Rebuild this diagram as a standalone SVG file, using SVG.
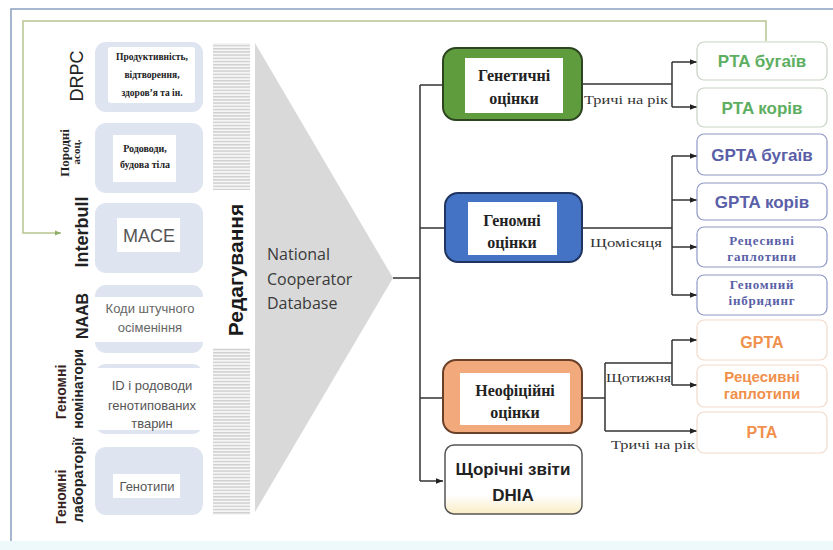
<svg xmlns="http://www.w3.org/2000/svg" width="833" height="550" viewBox="0 0 833 550">
<defs>
<pattern id="stripes" width="10" height="3.2" patternUnits="userSpaceOnUse"><rect width="10" height="3.2" fill="#f6f6f6"/><rect width="10" height="1.4" fill="#cfcfcf"/></pattern>
<marker id="arr" viewBox="0 0 10 10" refX="10" refY="5" markerWidth="7" markerHeight="7" orient="auto" markerUnits="userSpaceOnUse"><path d="M0,1 L10,5 L0,9 z" fill="#222"/></marker>
<marker id="garr" viewBox="0 0 10 10" refX="10" refY="5" markerWidth="6" markerHeight="6" orient="auto" markerUnits="userSpaceOnUse"><path d="M0,1 L10,5 L0,9 z" fill="#8fae6a"/></marker>
<linearGradient id="dhia" x1="0" y1="0" x2="0" y2="1"><stop offset="0.72" stop-color="#ffffff"/><stop offset="1" stop-color="#fbecc4"/></linearGradient>
</defs>
<style>
.lav{fill:#dfe4f1}
.wh{fill:#ffffff}
.ser{font-family:"Liberation Serif","DejaVu Serif",serif;font-weight:bold}
.sans{font-family:"Liberation Sans",Arial,sans-serif}
.open{font-family:"Open Sans","Liberation Sans",sans-serif}
.conn{fill:none;stroke:#333;stroke-width:1.5}
.rb{fill:#fff;stroke-width:1.2}
.gr{stroke:#c9d3c6}
.bl{stroke:#8f98c6}
.or{stroke:#f1d9c9}
.gt{fill:#5eae62;font-weight:bold;font-size:17px}
.bt{fill:#5a5fa8;font-weight:bold}
.ot{fill:#f0904c;font-weight:bold}
.lbl{font-size:13px;font-family:"Liberation Serif","DejaVu Serif",serif;fill:#333}
</style>
<rect width="833" height="550" fill="#fff"/>
<rect x="0" y="541" width="833" height="9" fill="#eef9fb"/>
<path d="M11 541 V9 H833" fill="none" stroke="#8aa0c0" stroke-width="1.5"/>

<g id="left-labels" font-weight="bold" fill="#222">
<text class="sans" font-weight="normal" font-size="18" transform="translate(83,76) rotate(-90)" text-anchor="middle">DRPC</text>
<text class="ser" font-size="13" transform="translate(69,153) rotate(-90)" text-anchor="middle">Породні</text>
<text class="ser" font-size="11" transform="translate(80,152) rotate(-90)" text-anchor="middle">асоц.</text>
<text class="sans" font-size="18" transform="translate(88,232) rotate(-90)" text-anchor="middle">Interbull</text>
<text class="sans" font-size="16" transform="translate(88,316) rotate(-90)" text-anchor="middle">NAAB</text>
<text class="sans" font-size="14" fill="#3a1f1f" transform="translate(66,392) rotate(-90)" text-anchor="middle">Геномні</text>
<text class="sans" font-size="14" transform="translate(83,389) rotate(-90)" text-anchor="middle">номінатори</text>
<text class="sans" font-size="14" fill="#3a1f1f" transform="translate(66,497) rotate(-90)" text-anchor="middle">Геномні</text>
<text class="sans" font-size="14.5" transform="translate(83,480) rotate(-90)" text-anchor="middle">лабораторії</text>
</g>

<g id="src-drpc">
<rect class="lav" x="95" y="42" width="108" height="70" rx="11"/>
<rect class="wh" x="108" y="47" width="87" height="56" rx="3"/>
<text class="ser" font-size="9.5" fill="#222" text-anchor="middle"><tspan x="152" y="60">Продуктивність,</tspan><tspan x="152" y="78">відтворення,</tspan><tspan x="152" y="96">здоров’я та ін.</tspan></text>
</g>
<g id="src-breed">
<rect class="lav" x="95" y="123" width="108" height="70" rx="11"/>
<rect class="wh" x="113" y="135" width="63" height="47"/>
<text class="ser" font-size="10" fill="#222" text-anchor="middle"><tspan x="145" y="152">Родоводи,</tspan><tspan x="145" y="168">будова тіла</tspan></text>
</g>
<g id="src-mace">
<rect class="lav" x="95" y="203" width="108" height="70" rx="11"/>
<rect class="wh" x="117" y="218" width="63" height="34"/>
<text class="sans" font-size="18" fill="#555" text-anchor="middle" x="149" y="242">MACE</text>
</g>
<g id="src-naab">
<rect class="lav" x="95" y="285" width="108" height="68" rx="11"/>
<rect class="wh" x="93" y="297" width="112" height="45"/>
<text class="sans" font-size="13" fill="#666" text-anchor="middle"><tspan x="150" y="313">Коди штучного</tspan><tspan x="150" y="332">осіменіння</tspan></text>
</g>
<g id="src-nominators">
<rect class="lav" x="95" y="364" width="108" height="70" rx="11"/>
<rect class="wh" x="93" y="368" width="112" height="62"/>
<text class="sans" font-size="13" fill="#555" text-anchor="middle"><tspan x="152" y="390">ID і родоводи</tspan><tspan x="152" y="410">генотипованих</tspan><tspan x="152" y="428">тварин</tspan></text>
</g>
<g id="src-genotypes">
<rect class="lav" x="95" y="447" width="108" height="68" rx="11"/>
<rect class="wh" x="113" y="474" width="67" height="24"/>
<text class="sans" font-size="13" fill="#555" text-anchor="middle" x="147" y="491">Генотипи</text>
</g>

<g id="editing">
<rect x="213" y="43" width="37" height="472" fill="url(#stripes)"/>
<rect x="213" y="190" width="37" height="158" fill="#fff"/>
<text class="sans" font-size="21" font-weight="bold" fill="#1a1a1a" text-anchor="middle" transform="translate(243,270) rotate(-90)">Редагування</text>
</g>

<g id="database">
<polygon points="255,43 393,278 255,512" fill="#d9d9d9"/>
<text class="open" font-size="16" fill="#3a3a3a"><tspan x="267" y="260">National</tspan><tspan x="267" y="285">Cooperator</tspan><tspan x="267" y="309">Database</tspan></text>
</g>

<g id="connectors">
<path d="M766 41 V21 H23 V233 H61" fill="none" stroke="#b7c490" stroke-width="1.5" marker-end="url(#garr)"/>
<path class="conn" d="M393 278 H420 M420 85 V481 M420 85 H443 M420 228 H445 M420 398 H443"/>
<path class="conn" d="M420 481 H443" marker-end="url(#arr)"/>
<path class="conn" d="M582 84 H672 M672 62 V107"/>
<path class="conn" d="M672 62 H697" marker-end="url(#arr)"/>
<path class="conn" d="M672 107 H697" marker-end="url(#arr)"/>
<path class="conn" d="M582 228 H672 M672 156 V295"/>
<path class="conn" d="M672 156 H697" marker-end="url(#arr)"/>
<path class="conn" d="M672 200 H697" marker-end="url(#arr)"/>
<path class="conn" d="M672 247 H697" marker-end="url(#arr)"/>
<path class="conn" d="M672 295 H697" marker-end="url(#arr)"/>
<path class="conn" d="M582 398 H605 M605 363 V431 M605 363 H672 M672 340 V385"/>
<path class="conn" d="M672 340 H697" marker-end="url(#arr)"/>
<path class="conn" d="M672 385 H697" marker-end="url(#arr)"/>
<path class="conn" d="M605 431 H697" marker-end="url(#arr)"/>
<text class="lbl" x="584" y="104" textLength="84" lengthAdjust="spacingAndGlyphs">Тричі на рік</text>
<text class="lbl" x="590" y="247" textLength="72" lengthAdjust="spacingAndGlyphs" fill="#5a3a6a">Щомісяця</text>
<text class="lbl" x="606" y="382" textLength="65" lengthAdjust="spacingAndGlyphs">Щотижня</text>
<text class="lbl" x="611" y="449" textLength="84" lengthAdjust="spacingAndGlyphs">Тричі на рік</text>
</g>

<g id="genetic">
<rect x="443" y="48" width="139" height="72" rx="13" fill="#5e9c3d" stroke="#2c4420" stroke-width="2"/>
<rect x="465" y="58" width="98" height="55" fill="#fff"/>
<text class="ser" font-size="16" fill="#222" text-anchor="middle"><tspan x="514" y="81">Генетичні</tspan><tspan x="514" y="104">оцінки</tspan></text>
</g>
<g id="genomic">
<rect x="445" y="193" width="137" height="69" rx="13" fill="#4472c4" stroke="#1f3460" stroke-width="2"/>
<rect x="468" y="202" width="89" height="53" fill="#fff"/>
<text class="ser" font-size="16" fill="#222" text-anchor="middle"><tspan x="512" y="226">Геномні</tspan><tspan x="512" y="248">оцінки</tspan></text>
</g>
<g id="unofficial">
<rect x="443" y="360" width="139" height="73" rx="13" fill="#f2a97b" stroke="#6b4028" stroke-width="2"/>
<rect x="460" y="373" width="110" height="52" fill="#fff"/>
<text class="ser" font-size="16" fill="#222" text-anchor="middle"><tspan x="515" y="396">Неофіційні</tspan><tspan x="515" y="418">оцінки</tspan></text>
</g>
<g id="dhia">
<rect x="445" y="445" width="137" height="69" rx="9" fill="url(#dhia)" stroke="#555" stroke-width="1.5"/>
<text class="sans" font-size="17" font-weight="bold" fill="#222" text-anchor="middle"><tspan x="513" y="475">Щорічні звіти</tspan><tspan x="513" y="501">DHIA</tspan></text>
</g>

<g id="pta-bulls"><rect class="rb gr" x="697" y="42" width="130" height="38" rx="7"/><text class="sans gt" x="762" y="67" text-anchor="middle">PTA бугаїв</text></g>
<g id="pta-cows"><rect class="rb gr" x="697" y="88" width="130" height="39" rx="7"/><text class="sans gt" x="762" y="114" text-anchor="middle">PTA корів</text></g>
<g id="gpta-bulls"><rect class="rb bl" x="697" y="134" width="130" height="41" rx="7"/><text class="sans bt" font-size="17" x="762" y="161" text-anchor="middle">GPTA бугаїв</text></g>
<g id="gpta-cows"><rect class="rb bl" x="697" y="183" width="130" height="37" rx="7"/><text class="sans bt" font-size="17" x="762" y="208" text-anchor="middle">GPTA корів</text></g>
<g id="recessive-genomic"><rect class="rb bl" x="697" y="227" width="130" height="40" rx="7"/><text class="ser bt" font-size="13" letter-spacing="0.8" text-anchor="middle"><tspan x="762" y="245">Рецесивні</tspan><tspan x="762" y="261">гаплотипи</tspan></text></g>
<g id="inbreeding"><rect class="rb bl" x="697" y="275" width="130" height="40" rx="7"/><text class="ser bt" font-size="13" letter-spacing="0.8" text-anchor="middle"><tspan x="762" y="289">Геномний</tspan><tspan x="762" y="305">інбридинг</tspan></text></g>
<g id="gpta-unofficial"><rect class="rb or" x="697" y="320" width="130" height="40" rx="7"/><text class="sans ot" font-size="16" x="762" y="348" text-anchor="middle">GPTA</text></g>
<g id="recessive-unofficial"><rect class="rb or" x="697" y="365" width="130" height="42" rx="7"/><text class="sans ot" font-size="15" text-anchor="middle"><tspan x="762" y="382">Рецесивні</tspan><tspan x="762" y="399">гаплотипи</tspan></text></g>
<g id="pta-unofficial"><rect class="rb or" x="697" y="412" width="130" height="41" rx="7"/><text class="sans ot" font-size="16" x="762" y="438" text-anchor="middle">PTA</text></g>
</svg>
